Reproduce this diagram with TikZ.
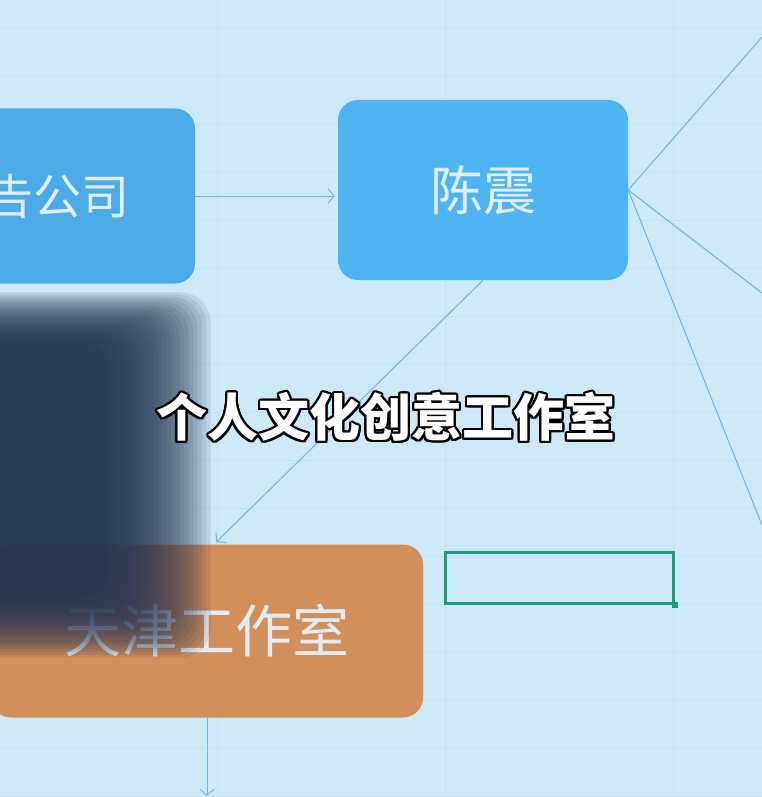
\documentclass[tikz,border=0pt]{standalone}
\usepackage{fontspec}
\setmainfont{Noto Sans CJK SC}
\usepackage[copies]{contour}
\usetikzlibrary{arrows.meta}
\usetikzlibrary{positioning}
\definecolor{hintergrund}{RGB}{205,232,246}
\definecolor{gitterfarbe}{RGB}{194,225,242}
\definecolor{hellblau}{RGB}{78,180,242}
\definecolor{orangebox}{RGB}{211,143,90}
\definecolor{linienblau}{RGB}{112,182,226}
\definecolor{gruen}{RGB}{30,156,118}
\definecolor{schatten}{RGB}{36,52,84}
\definecolor{boxtext}{RGB}{226,236,244}
\contourlength{2.2pt}

\begin{document}
\begin{tikzpicture}[x=1pt, y=-1pt, % 1 Einheit = 1 Pixel, y nach unten
  box/.style={rounded corners=20pt, inner sep=0pt, text=boxtext},
  linie/.style={linienblau, line width=1pt},
  pfeil/.style={linie, -{Straight Barb[length=6pt, width=14pt]}}]
\useasboundingbox (0,0) rectangle (762,797);
\clip (0,0) rectangle (762,797);
\fill[hintergrund] (0,0) rectangle (762,797); % Hintergrund
% Tabellengitter
\foreach \y in {28,76,...,796} \draw[gitterfarbe, line width=0.8pt] (0,\y) -- (762,\y);
\foreach \x in {217,445,673} \draw[gitterfarbe, line width=0.8pt] (\x,0) -- (\x,797);
% Kaesten
\node[box, fill=hellblau!95!black, minimum width=322pt, minimum height=175pt, font=\fontsize{48}{50}\selectfont] (firma) at (34,196) {\phantom{广}告公司};
\node[box, fill=hellblau, minimum width=290pt, minimum height=180pt, font=\fontsize{53}{55}\selectfont] (chen) at (483,190) {陈震};
\node[box, fill=orangebox, minimum width=432pt, minimum height=173pt, font=\fontsize{57}{60}\selectfont] (tianjin) at (207,631) {天津工作室};
% markierte Zelle
\node[draw=gruen, line width=3pt, minimum width=228pt, minimum height=51pt, inner sep=0pt] (auswahl) at (559,578) {};
\node[fill=gruen, minimum size=6pt, inner sep=0pt] (griff) at (auswahl.south east) {};
% Verbindungen
\coordinate (rechtsoben) at (762,37);
\coordinate (rechtsmitte) at (762,293);
\coordinate (rechtsunten) at (762,525);
\coordinate (unten) at (207,796);
\draw[pfeil, shorten >=3pt] (firma.east) -- (firma.east -| chen.west);
\draw[linie] (chen.east) -- (rechtsoben);
\draw[linie] (chen.east) -- (rechtsmitte);
\draw[linie] (chen.east) -- (rechtsunten);
\draw[pfeil, shorten >=3pt] (chen.south) -- ([xshift=7pt]tianjin.north);
\draw[pfeil] (tianjin.south) -- (unten);
% unscharfer Schatten links
\foreach \i in {0,...,24}
  \fill[schatten, opacity=0.1, rounded corners=30pt] (-50,345-2.2*\i) rectangle (105+4.4*\i,595+2.6*\i);
% Untertitel
\node[text=white, font=\fontsize{51}{55}\selectfont\bfseries] (titel) at (386,418) {\contour{black}{个人文化创意工作室}};
\end{tikzpicture}
\end{document}
